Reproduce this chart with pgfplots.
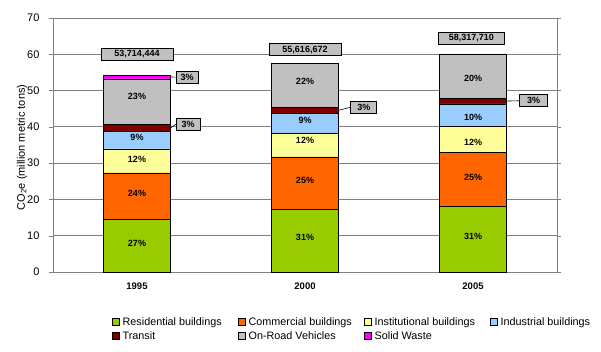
\documentclass[border=0pt]{standalone}
\usepackage{pgfplots}
\pgfplotsset{compat=1.18}
\usepackage{pgfplotstable}
\usepackage{fontspec}
\setmainfont{Liberation Sans}
\definecolor{cres}{HTML}{99CC00}
\definecolor{ccom}{HTML}{FF6600}
\definecolor{cinst}{HTML}{FFFF99}
\definecolor{cind}{HTML}{99CCFF}
\definecolor{ctra}{HTML}{800000}
\definecolor{croad}{HTML}{C0C0C0}
\definecolor{cwaste}{HTML}{FF00FF}
\definecolor{gridc}{HTML}{808080}
\pgfplotstableread{
x res com inst ind tra road waste
0 14.4 12.9 6.6 4.9 1.8 12.6 1.1
1 17.3 14.4 6.5 5.5 1.7 12.1 0
2 18.2 14.7 7.3 6.1 1.6 12.2 0
}\data
\newcommand{\legtxt}[1]{\makebox[114pt][l]{#1}}
\begin{document}
\begin{tikzpicture}[
  pct/.style={font=\bfseries\fontsize{9}{10}\selectfont, inner sep=0pt},
  box/.style={fill=croad, draw=black, line width=0.8pt, font=\bfseries\fontsize{9}{10}\selectfont, inner sep=2pt, minimum height=12pt},
]
\useasboundingbox (0,0) rectangle (601pt,351pt);
\begin{axis}[
  at={(53pt,79pt)}, anchor=south west,
  scale only axis, width=504pt, height=254pt,
  ybar stacked, bar width=67pt,
  xmin=-0.5, xmax=2.5, ymin=0, ymax=70,
  xtick={0,1,2}, xticklabels={1995,2000,2005},
  x tick label style={font=\bfseries\fontsize{9.5}{11}\selectfont, yshift=-3pt},
  major x tick style={draw=none},
  extra x ticks={0.5,1.5}, extra x tick labels={},
  extra x tick style={major tick length=4pt, tick style={draw=black}, grid=none},
  ytick={0,10,...,70},
  y tick label style={font=\fontsize{11}{13}\selectfont, xshift=-6pt},
  /pgf/number format/assume math mode=true,
  tick align=outside, major tick length=4pt,
  ymajorgrids, grid style={gridc, line width=0.8pt},
  axis line style={gridc, line width=0.8pt},
  ytick style={gridc},
  ylabel={CO\textsubscript{2}e (million metric tons)},
  ylabel style={font=\fontsize{11}{13}\selectfont, at={(axis description cs:-0.0615,0.49)}, anchor=center},
  legend columns=4,
  legend style={draw=none, at={(0.117,-0.169)}, anchor=north west,
    font=\fontsize{10.8}{13}\selectfont, inner sep=0pt,
    nodes={text height=8.5pt, text depth=2.5pt, inner sep=1.5pt},
    column sep=0pt, row sep=0pt,
    /tikz/every odd column/.append style={column sep=1.5pt},
    cells={anchor=west}},
  legend image code/.code={\draw[#1,draw=black,line width=0.5pt] (0pt,-3.5pt) rectangle (7pt,3.5pt);},
  every axis plot/.append style={draw=black, line width=0.7pt},
  clip=false,
]
\addplot[fill=cres] table[x=x,y=res]{\data};
\addlegendentry{\legtxt{Residential buildings}}
\addplot[fill=ccom] table[x=x,y=com]{\data};
\addlegendentry{\legtxt{Commercial buildings}}
\addplot[fill=cinst] table[x=x,y=inst]{\data};
\addlegendentry{\legtxt{Institutional buildings}}
\addplot[fill=cind] table[x=x,y=ind]{\data};
\addlegendentry{\legtxt{Industrial buildings}}
\addplot[fill=ctra] table[x=x,y=tra]{\data};
\addlegendentry{\legtxt{Transit}}
\addplot[fill=croad] table[x=x,y=road]{\data};
\addlegendentry{\legtxt{On-Road Vehicles}}
\addplot[fill=cwaste] table[x=x,y=waste]{\data};
\addlegendentry{\legtxt{Solid Waste}}

% anchor coordinates for labels
\coordinate (a1) at (axis cs:0,8.0);
\coordinate (a2) at (axis cs:0,21.6);
\coordinate (a3) at (axis cs:0,30.9);
\coordinate (a4) at (axis cs:0,37.0);
\coordinate (a5) at (axis cs:0,48.3);
\coordinate (b1) at (axis cs:1,9.4);
\coordinate (b2) at (axis cs:1,25.3);
\coordinate (b3) at (axis cs:1,36.4);
\coordinate (b4) at (axis cs:1,41.9);
\coordinate (b5) at (axis cs:1,52.6);
\coordinate (c1) at (axis cs:2,9.9);
\coordinate (c2) at (axis cs:2,26.0);
\coordinate (c3) at (axis cs:2,35.6);
\coordinate (c4) at (axis cs:2,42.5);
\coordinate (c5) at (axis cs:2,53.4);
\coordinate (t1) at (axis cs:0,60.0);
\coordinate (t2) at (axis cs:1,61.3);
\coordinate (t3) at (axis cs:1.99,64.4);
\coordinate (w0) at (axis cs:0.2,53.75);
\coordinate (w1) at (axis cs:0.23,53.7);
\coordinate (r0) at (axis cs:0.2,39.7);
\coordinate (r1) at (axis cs:0.23,40.7);
\coordinate (s0) at (axis cs:1.2,44.55);
\coordinate (s1) at (axis cs:1.27,45.4);
\coordinate (u0) at (axis cs:2.2,47.1);
\coordinate (u1) at (axis cs:2.275,47.2);
\end{axis}
% percentage labels
\node[pct] at (a1) {27\%};
\node[pct] at (a2) {24\%};
\node[pct] at (a3) {12\%};
\node[pct] at (a4) {9\%};
\node[pct] at (a5) {23\%};
\node[pct] at (b1) {31\%};
\node[pct] at (b2) {25\%};
\node[pct] at (b3) {12\%};
\node[pct] at (b4) {9\%};
\node[pct] at (b5) {22\%};
\node[pct] at (c1) {31\%};
\node[pct] at (c2) {25\%};
\node[pct] at (c3) {12\%};
\node[pct] at (c4) {10\%};
\node[pct] at (c5) {20\%};
% total labels
\node[box, minimum width=72pt] at (t1) {53,714,444};
\node[box, minimum width=72pt] at (t2) {55,616,672};
\node[box, minimum width=66pt] at (t3) {58,317,710};
% callouts
\draw[black, line width=0.6pt] (w0) -- (w1);
\node[box, minimum width=22pt, anchor=west] at (w1) {3\%};
\draw[black, line width=0.6pt] (r0) -- (r1);
\node[box, minimum width=24pt, anchor=west] at (r1) {3\%};
\draw[black, line width=0.6pt] (s0) -- (s1);
\node[box, minimum width=26pt, anchor=west] at (s1) {3\%};
\draw[black, line width=0.6pt] (u0) -- (u1);
\node[box, minimum width=28pt, anchor=west] at (u1) {3\%};
\end{tikzpicture}
\end{document}
